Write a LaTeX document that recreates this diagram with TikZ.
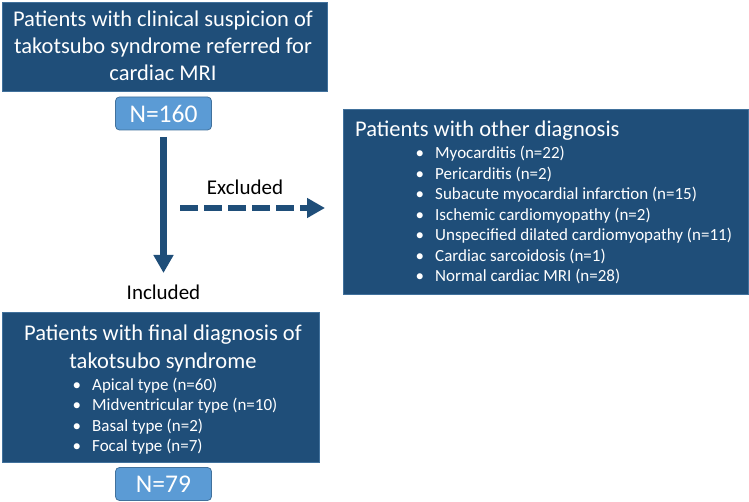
\documentclass[tikz,border=0pt]{standalone}
\usepackage{fontspec}
\setmainfont{Carlito}
\usetikzlibrary{arrows.meta}
\definecolor{dkblue}{HTML}{1F4E79}
\definecolor{edgeblue}{HTML}{41719C}
\definecolor{ltblue}{HTML}{5B9BD5}
\tikzset{
  bigbox/.style={fill=dkblue, draw=edgeblue, line width=0.8pt},
  countbox/.style={fill=ltblue, draw=edgeblue, line width=0.8pt, rounded corners=4pt, text=white,
    minimum width=96pt, minimum height=33pt, inner sep=0pt, font=\fontsize{25.5}{30}\selectfont},
  titletext/.style={text=white, inner sep=0pt, font=\fontsize{22.5}{27}\selectfont},
  itemtext/.style={text=white, inner sep=0pt, anchor=base west, font=\fontsize{17}{20}\selectfont},
  lbltext/.style={text=black, inner sep=0pt, anchor=base, font=\fontsize{21}{25}\selectfont},
  mainarrow/.style={draw=dkblue, line width=6.5pt, -{Triangle[width=19pt,length=18pt]}},
  dasharrow/.style={draw=dkblue, line width=6pt, dash pattern=on 18pt off 6pt, -{Triangle[width=19pt,length=18pt]}}
}
\newcommand{\bul}{\makebox[0pt][r]{\textbullet\hspace{11pt}}}
\begin{document}
\begin{tikzpicture}[x=1pt,y=-1pt]
\useasboundingbox (0,0) rectangle (749,502);
% top box
\draw[bigbox] (2,2) rectangle (327,91);
\node[titletext, anchor=base] (t1) at (163,27) {Patients with clinical suspicion of};
\node[titletext, anchor=base] (t2) at (163,54) {takotsubo syndrome referred for};
\node[titletext, anchor=base] (t3) at (163,81) {cardiac MRI};
\node[countbox] (n160) at (163.5,113.5) {N=160};
% right box
\draw[bigbox] (343,109) rectangle (748,294);
\node[titletext, anchor=base west] (rt) at (355,137) {Patients with other diagnosis};
\foreach \t [count=\i] in {Myocarditis (n=22), Pericarditis (n=2), Subacute myocardial infarction (n=15),
  Ischemic cardiomyopathy (n=2), Unspecified dilated cardiomyopathy (n=11), Cardiac sarcoidosis (n=1),
  Normal cardiac MRI (n=28)}
  \node[itemtext] (r\i) at (435,{159+20.5*(\i-1)}) {\bul\t};
% bottom box
\draw[bigbox] (2,312) rectangle (319,462);
\node[titletext, anchor=base] (b1) at (163,340) {Patients with final diagnosis of};
\node[titletext, anchor=base] (b2) at (163,368) {takotsubo syndrome};
\foreach \t [count=\i] in {Apical type (n=60), Midventricular type (n=10), Basal type (n=2), Focal type (n=7)}
  \node[itemtext] (l\i) at (92,{390+20.5*(\i-1)}) {\bul\t};
\node[countbox] (n79) at (163.5,484) {N=79};
% labels
\node[lbltext] (incl) at (163.5,300) {Included};
\node[lbltext] (excl) at (245,195) {Excluded};
% arrows
\coordinate (vs) at (163.5,137);
\coordinate (ve) at (163.5,273);
\draw[mainarrow] (vs) -- (ve);
\coordinate (hs) at (180,208);
\coordinate (he) at (325,208);
\draw[dasharrow] (hs) -- (he);
\end{tikzpicture}
\end{document}
